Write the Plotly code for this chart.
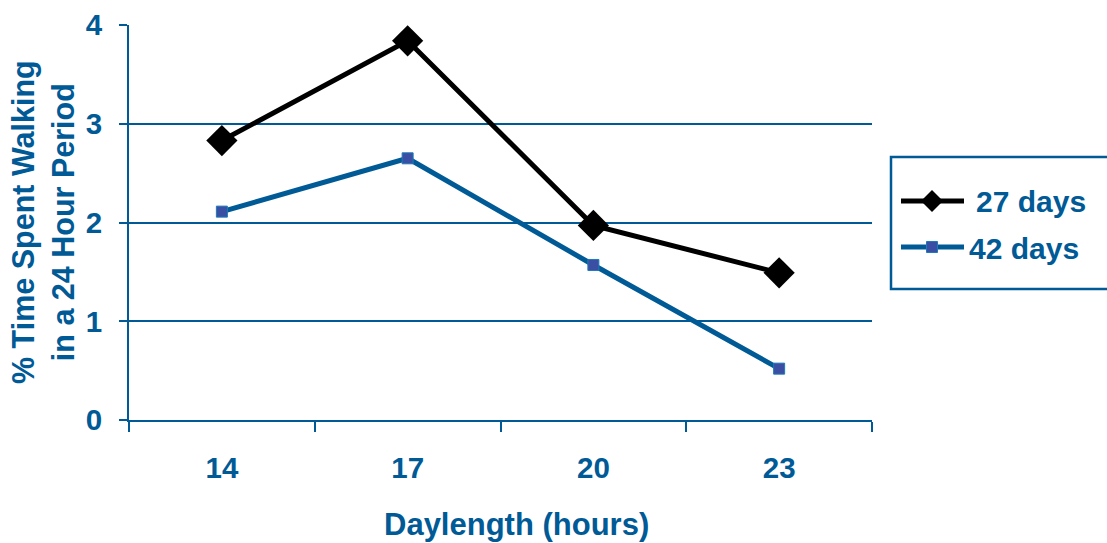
import plotly.graph_objects as go

# Walking activity by daylength for two bird ages
daylength = ["14", "17", "20", "23"]
walk_27_days = [2.83, 3.84, 1.97, 1.49]
walk_42_days = [2.11, 2.65, 1.57, 0.52]
y_ticks = [0, 1, 2, 3, 4]

BLUE = "#005A96"
FONT = "Liberation Sans, Arial, sans-serif"

W, H = 1107, 543
L, R, T, B = 129, 235, 25, 123
PW, PH = W - L - R, H - T - B


def px(x):
    return (x - L) / PW


def py(y):
    return (H - B - y) / PH


fig = go.Figure()
fig.add_trace(go.Scatter(
    x=daylength, y=walk_27_days, mode="lines+markers", name="27 days",
    line=dict(color="black", width=5),
    marker=dict(symbol="diamond", size=24, color="black"),
    showlegend=False, cliponaxis=False,
))
fig.add_trace(go.Scatter(
    x=daylength, y=walk_42_days, mode="lines+markers", name="42 days",
    line=dict(color=BLUE, width=5),
    marker=dict(symbol="square", size=11, color="#3A4EA3",
                line=dict(color="#1E7AB8", width=1)),
    showlegend=False, cliponaxis=False,
))

# Hand-drawn legend box
shapes = [
    dict(type="rect", xref="paper", yref="paper",
         x0=px(891), x1=px(1120), y0=py(289), y1=py(157),
         line=dict(color=BLUE, width=2.5), fillcolor="white", layer="below"),
    dict(type="line", xref="paper", yref="paper",
         x0=px(901), x1=px(964), y0=py(201), y1=py(201),
         line=dict(color="black", width=5)),
    dict(type="path", xref="paper", yref="paper",
         path=(f"M {px(932)},{py(190)} L {px(943)},{py(201)} "
               f"L {px(932)},{py(212)} L {px(921)},{py(201)} Z"),
         fillcolor="black", line=dict(color="black", width=0)),
    dict(type="line", xref="paper", yref="paper",
         x0=px(901), x1=px(964), y0=py(247), y1=py(247),
         line=dict(color=BLUE, width=5)),
    dict(type="rect", xref="paper", yref="paper",
         x0=px(926.5), x1=px(937.5), y0=py(252.5), y1=py(241.5),
         fillcolor="#3A4EA3", line=dict(color="#1E7AB8", width=1)),
]

annotations = [
    dict(text="<b>27 days</b>", xref="paper", yref="paper",
         x=px(974), y=py(202), xanchor="left", yanchor="middle",
         showarrow=False, font=dict(family=FONT, size=30, color=BLUE)),
    dict(text="<b>42 days</b>", xref="paper", yref="paper",
         x=px(967), y=py(248), xanchor="left", yanchor="middle",
         showarrow=False, font=dict(family=FONT, size=30, color=BLUE)),
    dict(text="<b>% Time Spent Walking<br>in a 24 Hour Period</b>",
         xref="paper", yref="paper", x=px(43), y=py(222), textangle=-90,
         xanchor="center", yanchor="middle", showarrow=False,
         font=dict(family=FONT, size=30.5, color=BLUE)),
    dict(text="<b>Daylength (hours)</b>", xref="paper", yref="paper",
         x=px(516), y=py(524), xanchor="center", yanchor="middle",
         showarrow=False, font=dict(family=FONT, size=31, color=BLUE)),
]

fig.update_layout(
    width=W, height=H,
    margin=dict(l=L, r=R, t=T, b=B, autoexpand=False),
    paper_bgcolor="white", plot_bgcolor="white",
    font=dict(family=FONT, color=BLUE),
    shapes=shapes, annotations=annotations,
    showlegend=False,
)
fig.update_xaxes(
    type="category", range=[-0.5, 3.5], tickson="boundaries", automargin=False,
    showgrid=False, showline=True, linecolor=BLUE, linewidth=2,
    ticks="outside", ticklen=10, tickwidth=2, tickcolor=BLUE,
    tickfont=dict(family=FONT, size=29.5, color=BLUE),
    ticklabelstandoff=21, tickprefix="<b>", ticksuffix="</b>",
)
fig.update_yaxes(
    range=[0, 4], tickvals=y_ticks, ticktext=[f"<b>{v}</b>" for v in y_ticks],
    automargin=False,
    showgrid=True, gridcolor=BLUE, gridwidth=2,
    showline=True, linecolor=BLUE, linewidth=2, zeroline=False,
    ticks="outside", ticklen=8, tickwidth=2, tickcolor=BLUE,
    tickfont=dict(family=FONT, size=29.5, color=BLUE),
    ticklabelstandoff=11,
)

fig.write_html("out.html")
